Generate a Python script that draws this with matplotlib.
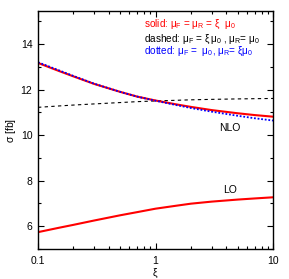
import matplotlib
matplotlib.use("Agg")
import matplotlib.pyplot as plt
from matplotlib.ticker import LogLocator, MultipleLocator, FixedLocator, NullFormatter

# scale factor xi
xi = [0.1, 0.15, 0.2, 0.3, 0.5, 0.7, 1.0, 1.5, 2.0, 3.0, 5.0, 7.0, 10.0]

# NLO, solid: muF = muR = xi mu0
nlo_solid = [13.17, 12.82, 12.58, 12.25, 11.90, 11.69, 11.52, 11.35, 11.24, 11.10, 10.96, 10.88, 10.81]
# NLO, dashed: muF = xi mu0, muR = mu0
nlo_dashed = [11.22, 11.28, 11.32, 11.37, 11.43, 11.47, 11.50, 11.53, 11.55, 11.57, 11.59, 11.60, 11.61]
# NLO, dotted: muF = mu0, muR = xi mu0
nlo_dotted = [13.20, 12.85, 12.60, 12.26, 11.90, 11.69, 11.51, 11.32, 11.19, 11.03, 10.85, 10.74, 10.64]
# LO
lo = [5.74, 5.93, 6.06, 6.25, 6.48, 6.62, 6.77, 6.90, 6.99, 7.08, 7.17, 7.22, 7.27]

plt.rcParams['font.family'] = ['Liberation Sans', 'DejaVu Sans']
plt.rcParams['mathtext.fontset'] = 'dejavusans'
plt.rcParams['mathtext.default'] = 'regular'

fig = plt.figure(figsize=(2.89, 2.79), dpi=100)
ax = fig.add_axes([38 / 289, 1 - 249 / 279, (273 - 38) / 289, (249 - 11) / 279])

ax.plot(xi, nlo_dashed, color='black', lw=0.8, ls=(0, (3, 3)))
ax.plot(xi, nlo_solid, color='red', lw=1.5)
ax.plot(xi, nlo_dotted, color='blue', lw=1.3, ls=(0, (1, 1)))
ax.plot(xi, lo, color='red', lw=1.5)

ax.set_xscale('log')
ax.set_xlim(0.1, 10)
ax.set_ylim(5, 15.45)

ax.xaxis.set_major_locator(FixedLocator([0.1, 1, 10]))
ax.set_xticklabels(['0.1', '1', '10'])
ax.xaxis.set_minor_locator(LogLocator(base=10, subs=range(2, 10)))
ax.xaxis.set_minor_formatter(NullFormatter())
ax.yaxis.set_major_locator(MultipleLocator(2))
ax.yaxis.set_minor_locator(MultipleLocator(1))

ax.tick_params(which='both', direction='in', top=True, right=True, labelsize=7.5)
ax.tick_params(axis='x', pad=5)
ax.tick_params(axis='y', pad=4)
ax.tick_params(which='major', length=4, width=0.8)
ax.tick_params(which='minor', length=2, width=0.8)
for s in ax.spines.values():
    s.set_linewidth(1.0)

ax.set_xlabel(r'$\xi$', fontsize=7.5, labelpad=1)
ax.set_ylabel(r'$\sigma$ [fb]', fontsize=7.5, labelpad=2)

ax.text(0.452, 0.945, r'solid: $\mu_F$ = $\mu_R$ = $\xi$  $\mu_0$', color='red',
        fontsize=7.2, transform=ax.transAxes, va='center')
ax.text(0.452, 0.882, r'dashed: $\mu_F$ = $\xi\,\mu_0$ , $\mu_R$= $\mu_0$', color='black',
        fontsize=7.2, transform=ax.transAxes, va='center')
ax.text(0.452, 0.828, r'dotted: $\mu_F$ =  $\mu_0$, $\mu_R$= $\xi\mu_0$', color='blue',
        fontsize=7.2, transform=ax.transAxes, va='center')

ax.text(4.3, 10.3, 'NLO', fontsize=7.5, ha='center', va='center')
ax.text(4.3, 7.6, 'LO', fontsize=7.5, ha='center', va='center')

fig.savefig('out.png', dpi=100)
